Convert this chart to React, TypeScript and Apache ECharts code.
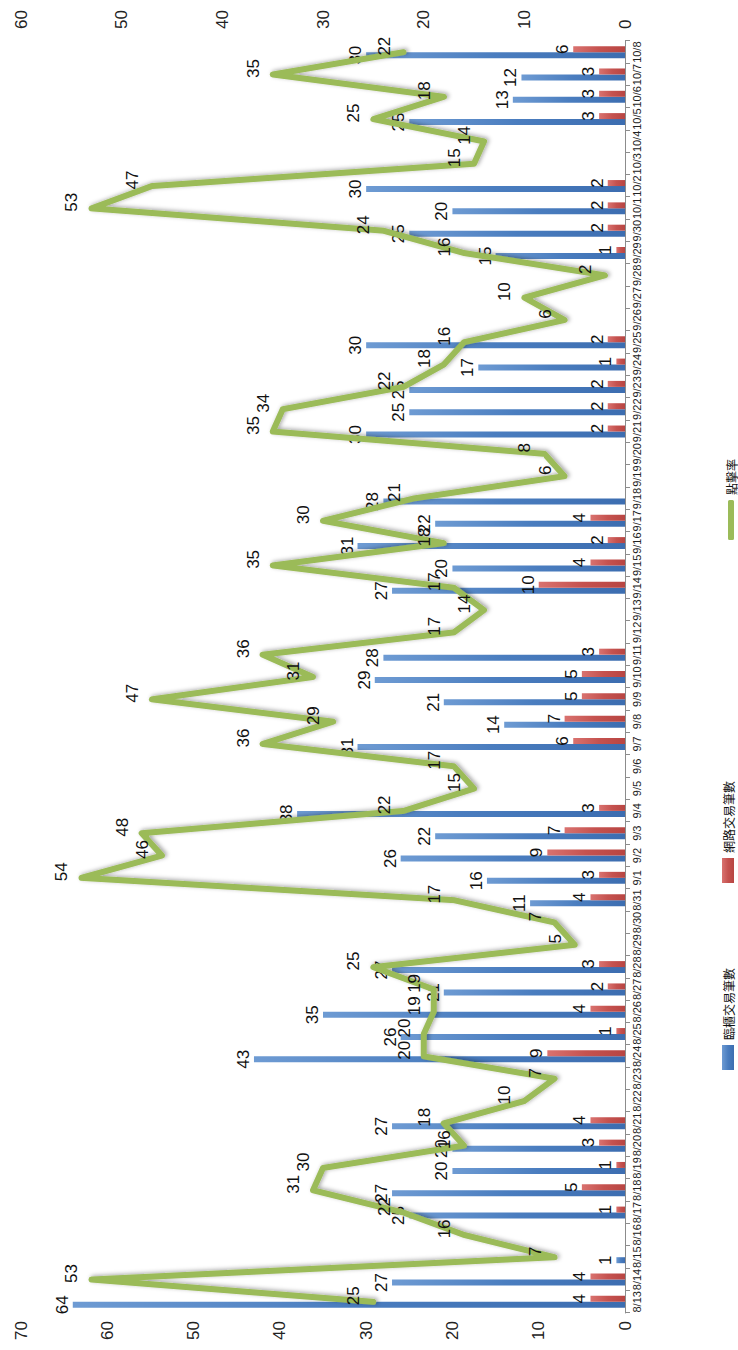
import React, { useEffect, useRef } from "react";
import * as echarts from "echarts";

// Category labels (dates) — drawn in the original landscape layout, page rotated 90° CCW
const dates = [
  "8/13", "8/14", "8/15", "8/16", "8/17", "8/18", "8/19", "8/20", "8/21", "8/22",
  "8/23", "8/24", "8/25", "8/26", "8/27", "8/28", "8/29", "8/30", "8/31", "9/1",
  "9/2", "9/3", "9/4", "9/5", "9/6", "9/7", "9/8", "9/9", "9/10", "9/11",
  "9/12", "9/13", "9/14", "9/15", "9/16", "9/17", "9/18", "9/19", "9/20", "9/21",
  "9/22", "9/23", "9/24", "9/25", "9/26", "9/27", "9/28", "9/29", "9/30", "10/1",
  "10/2", "10/3", "10/4", "10/5", "10/6", "10/7", "10/8",
];

// 臨櫃交易筆數 (counter transactions)
const counterTx = [
  64, 27, 1, null, 25, 27, 20, 20, 27, null,
  null, 43, 26, 35, 21, 27, null, null, 11, 16,
  26, 22, 38, null, null, 31, 14, 21, 29, 28,
  null, null, 27, 20, 31, 22, 28, null, null, 30,
  25, 25, 17, 30, null, null, null, 15, 25, 20,
  30, null, null, 25, 13, 12, 30,
];

// 網路交易筆數 (online transactions)
const onlineTx = [
  4, 4, null, null, 1, 5, 1, 3, 4, null,
  null, 9, 1, 4, 2, 3, null, null, 4, 3,
  9, 7, 3, null, null, 6, 7, 5, 5, 3,
  null, null, 10, 4, 2, 4, null, null, null, 2,
  2, 2, 1, 2, null, null, null, 1, 2, 2,
  2, null, null, 3, 3, 3, 6,
];

// 點擊率 (click rate)
const clickRate = [
  25, 53, 7, 16, 22, 31, 30, 16, 18, 10,
  7, 20, 20, 19, 19, 25, 5, 7, 17, 54,
  46, 48, 22, 15, 17, 36, 29, 47, 31, 36,
  17, 14, 17, 35, 18, 30, 21, 6, 8, 35,
  34, 22, 18, 16, 6, 10, 2, 16, 24, 53,
  47, 15, 14, 25, 18, 35, 22,
];

const leftTicks = { min: 0, max: 70, interval: 10 };
const rightTicks = { min: 0, max: 60, interval: 10 };

const FONT = "'Liberation Sans', Arial, sans-serif";
const CJK = "'Noto Sans CJK TC', 'Noto Sans CJK SC', sans-serif";

export default function App() {
  const ref = useRef<HTMLDivElement | null>(null);

  useEffect(() => {
    if (!ref.current) return;
    const chart = echarts.init(ref.current, undefined, {
      renderer: "svg",
      width: 1350,
      height: 738,
    });

    const blue = new echarts.graphic.LinearGradient(0, 0, 0, 1, [
      { offset: 0, color: "#6E9BD3" },
      { offset: 0.5, color: "#4A7DBF" },
      { offset: 1, color: "#3C6DB0" },
    ]);
    const red = new echarts.graphic.LinearGradient(0, 0, 0, 1, [
      { offset: 0, color: "#D9726F" },
      { offset: 0.5, color: "#C5524F" },
      { offset: 1, color: "#B84542" },
    ]);

    const dataLabel = {
      show: true,
      position: "top",
      distance: 2,
      fontSize: 17,
      color: "#111",
      fontFamily: FONT,
    };

    const legendText = { fontSize: 12, color: "#111", fontFamily: CJK };

    chart.setOption({
      animation: false,
      textStyle: { fontFamily: FONT },
      grid: { left: 37, right: 41, top: 21, bottom: 113, containLabel: false },
      legend: [
        {
          data: [{ name: "臨櫃交易筆數", icon: "rect" }],
          left: 275,
          top: 717,
          itemWidth: 25,
          itemHeight: 12,
          itemGap: 5,
          textStyle: legendText,
          selectedMode: false,
        },
        {
          data: [{ name: "網路交易筆數", icon: "rect" }],
          left: 462,
          top: 717,
          itemWidth: 25,
          itemHeight: 12,
          textStyle: legendText,
          selectedMode: false,
        },
        {
          data: [{ name: "點擊率", icon: "roundRect" }],
          left: 805,
          top: 720,
          itemWidth: 40,
          itemHeight: 6,
          textStyle: legendText,
          itemStyle: { color: "#9BBB59" },
          selectedMode: false,
        },
      ],
      xAxis: {
        type: "category",
        data: dates,
        boundaryGap: true,
        axisLine: { show: true, lineStyle: { color: "#8C8C8C", width: 1 } },
        axisTick: { show: true, length: 5, lineStyle: { color: "#8C8C8C" } },
        axisLabel: {
          interval: 0,
          fontSize: 11,
          color: "#222",
          margin: 6,
          fontFamily: FONT,
        },
      },
      yAxis: [
        {
          type: "value",
          position: "left",
          ...leftTicks,
          axisLine: { show: false },
          axisTick: { show: false },
          splitLine: { show: false },
          axisLabel: { fontSize: 17, color: "#222", margin: 8, fontFamily: FONT },
        },
        {
          type: "value",
          position: "right",
          ...rightTicks,
          axisLine: { show: false },
          axisTick: { show: false },
          splitLine: { show: false },
          axisLabel: { fontSize: 17, color: "#222", margin: 12, fontFamily: FONT },
        },
      ],
      series: [
        {
          name: "臨櫃交易筆數",
          type: "bar",
          data: counterTx,
          barWidth: 6,
          barGap: "0%",
          itemStyle: { color: blue },
          label: dataLabel,
          z: 2,
        },
        {
          name: "網路交易筆數",
          type: "bar",
          data: onlineTx,
          barWidth: 6,
          barGap: "0%",
          itemStyle: { color: red },
          label: dataLabel,
          z: 2,
        },
        {
          name: "點擊率",
          type: "line",
          yAxisIndex: 1,
          data: clickRate,
          color: "#9BBB59",
          symbol: "circle",
          symbolSize: 2,
          itemStyle: { color: "#9BBB59" },
          lineStyle: {
            width: 6,
            color: "#9BBB59",
            cap: "round",
            join: "round",
            shadowColor: "rgba(0,0,0,0.35)",
            shadowBlur: 4,
            shadowOffsetX: 1,
            shadowOffsetY: 2,
          },
          label: { ...dataLabel, distance: 10, offset: [6, 0] },
          z: 5,
        },
      ],
    });

    return () => {
      chart.dispose();
    };
  }, []);

  return (
    <div
      style={{
        position: "absolute",
        left: 0,
        top: 0,
        width: 738,
        height: 1350,
        overflow: "hidden",
        background: "#fff",
      }}
    >
      <div
        ref={ref}
        style={{
          position: "absolute",
          left: 0,
          top: 0,
          width: 1350,
          height: 738,
          transformOrigin: "0 0",
          transform: "translateY(1350px) rotate(-90deg)",
        }}
      />
    </div>
  );
}
